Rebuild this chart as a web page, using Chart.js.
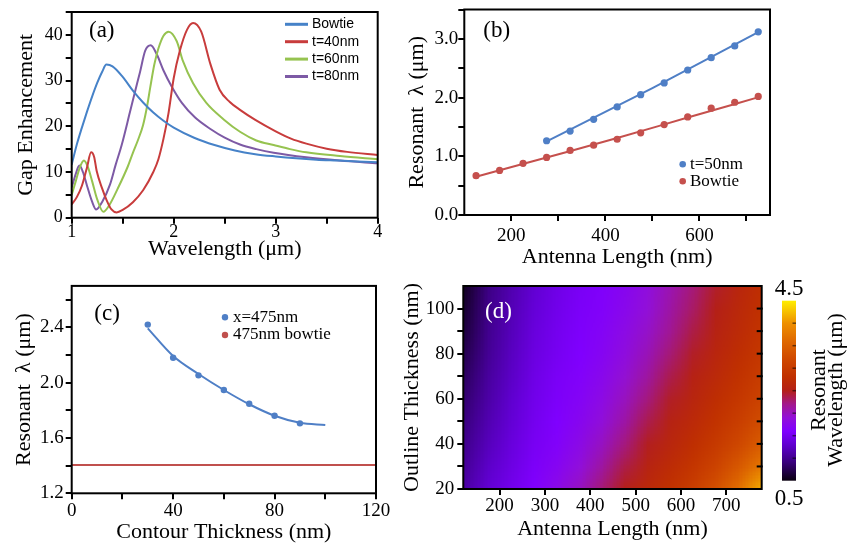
<!DOCTYPE html>
<html><head><meta charset="utf-8">
<script src="https://cdn.jsdelivr.net/npm/chart.js@4/dist/chart.umd.min.js"></script>
<style>
html,body{margin:0;padding:0;background:#fff;width:849px;height:546px;overflow:hidden}
canvas{position:absolute;left:0;top:0}
</style></head><body>
<canvas id="ca" width="849" height="546"></canvas>
<canvas id="cb" width="849" height="546"></canvas>
<canvas id="cc" width="849" height="546"></canvas>
<canvas id="cd" width="849" height="546"></canvas>
<script>
// ---------- Panel (a): gap enhancement spectra ----------
const bowtieX = [1.0,1.05,1.1,1.15,1.2,1.25,1.3,1.34,1.4,1.5,1.6,1.7,1.8,1.9,2.0,2.2,2.4,2.6,2.8,3.0,3.2,3.4,3.6,3.8,4.0];
const bowtieY = [11.6,16.0,19.7,23.2,26.5,29.5,32.0,33.5,33.1,30.8,27.8,25.2,23.0,21.2,19.7,17.5,15.9,14.7,13.9,13.4,13.0,12.7,12.5,12.3,12.15];
const t40X = [1.0,1.05,1.1,1.15,1.19,1.22,1.245,1.3,1.343,1.39,1.44,1.5,1.6,1.7,1.8,1.85,1.9,1.95,2.0,2.06,2.13,2.19,2.27,2.36,2.45,2.55,2.65,2.8,3.0,3.15,3.3,3.5,3.7,4.0];
const t40Y = [2.9,4.5,7.0,11.0,14.3,13.3,10.2,6.3,3.8,1.8,1.15,1.7,3.4,6.0,10.0,12.8,17.3,23.0,30.5,36.5,41.1,42.6,40.7,33.6,28.0,25.3,23.6,21.4,18.9,17.3,16.2,15.1,14.4,13.7];
const t60X = [1.0,1.04,1.08,1.12,1.16,1.2,1.25,1.31,1.37,1.45,1.55,1.6,1.65,1.7,1.74,1.77,1.81,1.85,1.9,1.95,2.03,2.09,2.19,2.32,2.49,2.65,2.81,2.98,3.14,3.3,3.63,4.0];
const t60Y = [5.0,8.0,11.0,12.5,11.0,8.0,4.0,1.3,2.8,6.3,11.2,14.2,17.0,20.3,24.5,28.5,33.5,37.0,39.8,40.7,38.6,34.3,29.4,25.1,21.5,18.8,16.9,15.9,15.0,14.3,13.5,12.8];
const t80X = [1.0,1.04,1.075,1.11,1.15,1.2,1.24,1.3,1.376,1.43,1.49,1.57,1.62,1.67,1.72,1.775,1.833,1.9,1.98,2.08,2.21,2.36,2.5,2.65,2.81,2.98,3.3,3.63,4.0];
const t80Y = [6.6,9.6,11.4,10.0,7.0,3.5,1.8,3.5,7.3,11.5,15.9,23.0,27.5,31.9,36.5,37.7,35.8,32.2,28.7,25.1,21.9,19.4,17.5,16.0,15.0,14.2,13.2,12.5,11.9];
const seriesNamesA = ['Bowtie','t=40nm','t=60nm','t=80nm'];

// ---------- Panel (b): resonance vs antenna length ----------
const lenT50 = [275,325,375,425,475,525,575,625,675,725];
const resT50 = [1.265,1.43,1.63,1.84,2.05,2.25,2.47,2.68,2.88,3.12];
const lenBow = [125,175,225,275,325,375,425,475,525,575,625,675,725];
const resBow = [0.67,0.76,0.88,0.98,1.10,1.19,1.29,1.40,1.54,1.67,1.82,1.92,2.02];
const fitT50X = [272,500,726];
const fitT50Y = [1.24,2.16,3.12];
const fitBowX = [123,275,425,575,726];
const fitBowY = [0.646,0.98,1.31,1.66,2.007];
const seriesNamesB = ['t=50nm','Bowtie'];

// ---------- Panel (c): resonance vs contour thickness ----------
const thickPts = [30,40,50,60,70,80,90];
const resPts = [2.42,2.18,2.053,1.947,1.848,1.761,1.706];
const thickFit = [30,40,50,60,70,80,90,100];
const resFit = [2.393,2.193,2.063,1.947,1.844,1.761,1.71,1.694];
const bowtieRefX = [0,120];
const bowtieRefY = [1.405,1.405];
const seriesNamesC = ['x=475nm','475nm bowtie'];

// ---------- Panel (d): resonant wavelength map ----------
const heatLength = [125,175,225,275,325,375,425,475,525,575,625,675,725,775];
const heatThick = [110,100,90,80,70,60,50,40,30,20];
const heatZ = [
 [0.60,0.95,1.15,1.32,1.45,1.54,1.62,1.72,1.86,2.05,2.25,2.45,2.62,2.78],
 [0.65,0.98,1.18,1.35,1.47,1.56,1.64,1.75,1.90,2.10,2.30,2.50,2.66,2.82],
 [0.70,1.00,1.20,1.38,1.50,1.58,1.67,1.80,1.96,2.17,2.38,2.56,2.70,2.87],
 [0.76,1.03,1.23,1.41,1.52,1.60,1.70,1.85,2.03,2.26,2.46,2.62,2.76,2.94],
 [0.82,1.07,1.26,1.44,1.55,1.63,1.75,1.92,2.12,2.36,2.54,2.68,2.83,3.02],
 [0.88,1.11,1.30,1.47,1.57,1.67,1.81,2.00,2.24,2.46,2.61,2.76,2.92,3.12],
 [0.94,1.16,1.34,1.50,1.60,1.72,1.89,2.10,2.36,2.55,2.69,2.85,3.03,3.26],
 [1.00,1.21,1.38,1.53,1.64,1.79,1.99,2.24,2.48,2.63,2.78,2.97,3.18,3.45],
 [1.06,1.27,1.43,1.57,1.70,1.88,2.12,2.38,2.58,2.72,2.90,3.12,3.40,3.75],
 [1.12,1.33,1.48,1.61,1.78,1.99,2.26,2.50,2.67,2.83,3.03,3.30,3.65,4.15]
];
const cbarMin = 0.5, cbarMax = 4.5;
const cmapStops = [0.5,0.9,1.3,1.6,1.9,2.2,2.5,2.8,3.2,3.6,4.0,4.5];
const cmapColors = ['#0a0010','#38007a','#6000d0','#8000ff','#9210d8','#a3188c','#b42018','#c03000','#cf4800','#df6800','#ee9000','#ffee00'];

// ================= helpers =================
const W = 849, H = 546, TLH = 26.4;
const SERIF = "'Liberation Serif','Times New Roman',serif";
const SANS = "'Liberation Sans',Arial,sans-serif";
Chart.defaults.font.family = SERIF;
Chart.defaults.color = '#000';
Chart.defaults.animation = false;

function pts(xs, ys){ return xs.map((x,i)=>({x:x, y:ys[i]})); }

function axis(g, isX, o){
  return {
    type:'linear', position: isX ? 'bottom' : 'left',
    min:o.min, max:o.max,
    title:{display:true, text:o.title, font:{size:22, lineHeight:1.2, family:SERIF}, color:'#000', padding:0},
    ticks:{stepSize:o.step, autoSkip:false, maxRotation:0, minRotation:0, includeBounds:false,
      font:{size:o.fs||19, lineHeight:1, family:SERIF}, color:'#000', padding:o.pad, callback:o.cb},
    grid:{drawOnChartArea:false, drawTicks:true, tickLength:6, lineWidth:2, color:'#000', tickColor:'#000'},
    border:{display:false},
    afterBuildTicks: s => { s.ticks = s.ticks.filter(t => o.keep ? o.keep(t.value) : true); },
    afterFit: s => { if (isX) s.height = (g.xtm + TLH/2) - g.b; else s.width = g.l - (g.ytm - TLH/2); }
  };
}
function layoutFor(g){
  return {padding:{left:g.ytm - TLH/2, top:g.t, right:W - g.r, bottom:H - g.xtm - TLH/2}};
}
function framePlugin(extra){
  return {
    id:'frame'+Math.random().toString(36).slice(2),
    afterDatasetsDraw(chart){
      const {ctx, chartArea:a} = chart;
      ctx.save();
      ctx.strokeStyle = '#000'; ctx.lineWidth = 2;
      ctx.strokeRect(a.left, a.top, a.right - a.left, a.bottom - a.top);
      ctx.restore();
      if (extra) extra(chart);
    }
  };
}
function label(ctx, txt, x, y, font, color, align, base){
  ctx.save(); ctx.font = font; ctx.fillStyle = color || '#000';
  ctx.textAlign = align || 'left'; ctx.textBaseline = base || 'alphabetic';
  ctx.fillText(txt, x, y); ctx.restore();
}
function hexToRgb(h){ return [parseInt(h.slice(1,3),16), parseInt(h.slice(3,5),16), parseInt(h.slice(5,7),16)]; }
function cmap(v){
  if (v <= cmapStops[0]) return hexToRgb(cmapColors[0]);
  for (let i=1;i<cmapStops.length;i++){
    if (v <= cmapStops[i]){
      const f = (v - cmapStops[i-1])/(cmapStops[i]-cmapStops[i-1]);
      const a = hexToRgb(cmapColors[i-1]), b = hexToRgb(cmapColors[i]);
      return [0,1,2].map(k => Math.round(a[k] + (b[k]-a[k])*f));
    }
  }
  return hexToRgb(cmapColors[cmapColors.length-1]);
}

const colA = ['#4682c8','#c83c3c','#96c350','#7d5aa5'];
const blueB = '#4f7fc6', redB = '#c5504d';

// ================= Panel (a) =================
const gA = {l:71.7, r:377.7, t:6.6, b:217.7, ytm:26.6, xtm:249};
new Chart(document.getElementById('ca'), {
  type:'scatter',
  data:{datasets:[
    {label:seriesNamesA[0], data:pts(bowtieX,bowtieY), borderColor:colA[0]},
    {label:seriesNamesA[1], data:pts(t40X,t40Y), borderColor:colA[1]},
    {label:seriesNamesA[2], data:pts(t60X,t60Y), borderColor:colA[2]},
    {label:seriesNamesA[3], data:pts(t80X,t80Y), borderColor:colA[3]}
  ].map(d => Object.assign(d, {showLine:true, pointRadius:0, borderWidth:2, cubicInterpolationMode:'monotone', fill:false}))},
  options:{
    responsive:false, devicePixelRatio:1, layout:layoutFor(gA),
    plugins:{legend:{display:false}, tooltip:{enabled:false}},
    scales:{
      x: axis(gA, true, {min:1, max:4, step:0.5, title:'Wavelength (μm)', fs:18, pad:0,
          cb:v => Number.isInteger(v) ? String(v) : ''}),
      y: axis(gA, false, {min:0, max:45, step:5, title:'Gap Enhancement', fs:18, pad:3,
          cb:v => (v % 10 === 0) ? String(v) : ''})
    }
  },
  plugins:[framePlugin(chart => {
    const ctx = chart.ctx;
    label(ctx, '(a)', 89, 37, '23px '+SERIF);
    seriesNamesA.forEach((n,i) => {
      const y = 24.3 + i*17.4;
      ctx.save(); ctx.strokeStyle = colA[i]; ctx.lineWidth = 3;
      ctx.beginPath(); ctx.moveTo(285, y); ctx.lineTo(308, y); ctx.stroke(); ctx.restore();
      label(ctx, n, 312, y, '14px '+SANS, '#000', 'left', 'middle');
    });
  })]
});

// ================= Panel (b) =================
const gB = {l:464.3, r:770, t:6.5, b:215, ytm:417, xtm:257};
new Chart(document.getElementById('cb'), {
  type:'scatter',
  data:{datasets:[
    {label:'fitT50', data:pts(fitT50X,fitT50Y), showLine:true, pointRadius:0, borderColor:blueB, borderWidth:2},
    {label:'fitBow', data:pts(fitBowX,fitBowY), showLine:true, pointRadius:0, borderColor:redB, borderWidth:2, cubicInterpolationMode:'monotone'},
    {label:seriesNamesB[0], data:pts(lenT50,resT50), pointRadius:3.6, pointBackgroundColor:blueB, pointBorderWidth:0},
    {label:seriesNamesB[1], data:pts(lenBow,resBow), pointRadius:3.6, pointBackgroundColor:redB, pointBorderWidth:0}
  ]},
  options:{
    responsive:false, devicePixelRatio:1, layout:layoutFor(gB),
    plugins:{legend:{display:false}, tooltip:{enabled:false}},
    scales:{
      x: axis(gB, true, {min:100, max:750, step:100, title:'Antenna Length (nm)', pad:6,
          keep:v => v>=200 && v<=700 && v%100===0, cb:v => (v % 200 === 0) ? String(v) : ''}),
      y: axis(gB, false, {min:0, max:3.5, step:0.5, title:'Resonant  λ (μm)', pad:0,
          cb:v => Number.isInteger(v) ? v.toFixed(1) : ''})
    }
  },
  plugins:[framePlugin(chart => {
    const ctx = chart.ctx;
    label(ctx, '(b)', 483.3, 37, '23px '+SERIF);
    [[blueB,164.3],[redB,181.3]].forEach((c,i) => {
      ctx.save(); ctx.fillStyle = c[0]; ctx.beginPath(); ctx.arc(682.7, c[1], 3.3, 0, Math.PI*2); ctx.fill(); ctx.restore();
      label(ctx, seriesNamesB[i], 690, c[1], '17px '+SERIF, '#000', 'left', 'middle');
    });
  })]
});

// ================= Panel (c) =================
const gC = {l:71.7, r:376, t:285.9, b:493.3, ytm:23.8, xtm:532};
new Chart(document.getElementById('cc'), {
  type:'scatter',
  data:{datasets:[
    {label:'bowtieRef', data:pts(bowtieRefX,bowtieRefY), showLine:true, pointRadius:0, borderColor:'#c0504d', borderWidth:2},
    {label:'fit', data:pts(thickFit,resFit), showLine:true, pointRadius:0, borderColor:blueB, borderWidth:2, cubicInterpolationMode:'monotone'},
    {label:seriesNamesC[0], data:pts(thickPts,resPts), pointRadius:3.2, pointBackgroundColor:blueB, pointBorderWidth:0}
  ]},
  options:{
    responsive:false, devicePixelRatio:1, layout:layoutFor(gC),
    plugins:{legend:{display:false}, tooltip:{enabled:false}},
    scales:{
      x: axis(gC, true, {min:0, max:120, step:20, title:'Contour Thickness (nm)', pad:2,
          cb:v => (v % 40 === 0) ? String(v) : ''}),
      y: axis(gC, false, {min:1.2, max:2.7, step:0.2, title:'Resonant  λ (μm)', pad:2,
          keep:v => v <= 2.61, cb:v => (Math.round(v*10) % 4 === 0) ? v.toFixed(1) : ''})
    }
  },
  plugins:[framePlugin(chart => {
    const ctx = chart.ctx;
    label(ctx, '(c)', 94.3, 319.5, '23px '+SERIF);
    [[blueB,317.3],['#c0504d',335]].forEach((c,i) => {
      ctx.save(); ctx.fillStyle = c[0]; ctx.beginPath(); ctx.arc(225, c[1], 3.2, 0, Math.PI*2); ctx.fill(); ctx.restore();
      label(ctx, seriesNamesC[i], 233, c[1], '17px '+SERIF, '#000', 'left', 'middle');
    });
  })]
});

// ================= Panel (d) =================
const gD = {l:463.3, r:761.7, t:286, b:489, ytm:412, xtm:529};
const heatPlugin = {
  id:'heat',
  beforeDatasetsDraw(chart){
    const {ctx, chartArea:a, scales:{x, y}} = chart;
    const nC = heatLength.length, nR = heatThick.length;
    const off = document.createElement('canvas'); off.width = nC; off.height = nR;
    const octx = off.getContext('2d'); const img = octx.createImageData(nC, nR);
    for (let r=0;r<nR;r++) for (let c=0;c<nC;c++){
      const rgb = cmap(heatZ[r][c]); const k = (r*nC + c)*4;
      img.data[k]=rgb[0]; img.data[k+1]=rgb[1]; img.data[k+2]=rgb[2]; img.data[k+3]=255;
    }
    octx.putImageData(img, 0, 0);
    const dL = heatLength[1]-heatLength[0], dT = heatThick[0]-heatThick[1];
    const x0 = x.getPixelForValue(heatLength[0]-dL/2), x1 = x.getPixelForValue(heatLength[nC-1]+dL/2);
    const y0 = y.getPixelForValue(heatThick[0]+dT/2), y1 = y.getPixelForValue(heatThick[nR-1]-dT/2);
    ctx.save(); ctx.beginPath(); ctx.rect(a.left, a.top, a.right-a.left, a.bottom-a.top); ctx.clip();
    ctx.imageSmoothingEnabled = true; ctx.imageSmoothingQuality = 'low';
    ctx.drawImage(off, x0, y0, x1-x0, y1-y0);
    ctx.restore();
  }
};
new Chart(document.getElementById('cd'), {
  type:'scatter',
  data:{datasets:[]},
  options:{
    responsive:false, devicePixelRatio:1, layout:layoutFor(gD),
    plugins:{legend:{display:false}, tooltip:{enabled:false}},
    scales:{
      x: axis(gD, true, {min:120, max:778, step:100, title:'Antenna Length (nm)', pad:2,
          keep:v => v>=200 && v<=700 && v%100===0, cb:v => String(v)}),
      y: axis(gD, false, {min:20, max:110, step:10, title:'Outline Thickness (nm)', pad:3,
          keep:v => v<=100, cb:v => (v % 20 === 0) ? String(v) : ''})
    }
  },
  plugins:[heatPlugin, framePlugin(chart => {
    const ctx = chart.ctx, a = chart.chartArea, ys = chart.scales.y;
    ctx.save(); ctx.strokeStyle = '#000'; ctx.lineWidth = 2;
    ys.ticks.forEach(t => { if (t.value > 20 && t.value < 110){ const py = ys.getPixelForValue(t.value);
      ctx.beginPath(); ctx.moveTo(a.right-5, py); ctx.lineTo(a.right+1, py); ctx.stroke(); }});
    ctx.restore();
    label(ctx, '(d)', 485, 318, '23px '+SERIF, '#fff');
    // colour bar
    const cbL = 782, cbR = 796, cbT = 300.7, cbB = 480.7;
    const grad = ctx.createLinearGradient(0, cbB, 0, cbT);
    cmapStops.forEach((v,i) => grad.addColorStop((v-cbarMin)/(cbarMax-cbarMin), cmapColors[i]));
    ctx.save(); ctx.fillStyle = grad; ctx.fillRect(cbL, cbT, cbR-cbL, cbB-cbT);
    ctx.strokeStyle = 'rgba(0,0,0,0.55)'; ctx.lineWidth = 1.5;
    for (let v = 1.0; v < 4.49; v += 0.5){
      const py = cbB - (v-cbarMin)/(cbarMax-cbarMin)*(cbB-cbT);
      ctx.beginPath(); ctx.moveTo(cbR-3.5, py); ctx.lineTo(cbR, py); ctx.stroke();
    }
    ctx.restore();
    label(ctx, cbarMax.toFixed(1), 789, 295, '23px '+SERIF, '#000', 'center');
    label(ctx, cbarMin.toFixed(1), 789, 505, '23px '+SERIF, '#000', 'center');
    ctx.save();
    ctx.font = '22px '+SERIF; ctx.fillStyle = '#000'; ctx.textAlign = 'center'; ctx.textBaseline = 'alphabetic';
    ctx.save(); ctx.translate(825, 390); ctx.rotate(-Math.PI/2); ctx.fillText('Resonant', 0, 0); ctx.restore();
    ctx.save(); ctx.translate(842, 390); ctx.rotate(-Math.PI/2); ctx.fillText('Wavelength (μm)', 0, 0); ctx.restore();
    ctx.restore();
  })]
});
</script>
</body></html>
